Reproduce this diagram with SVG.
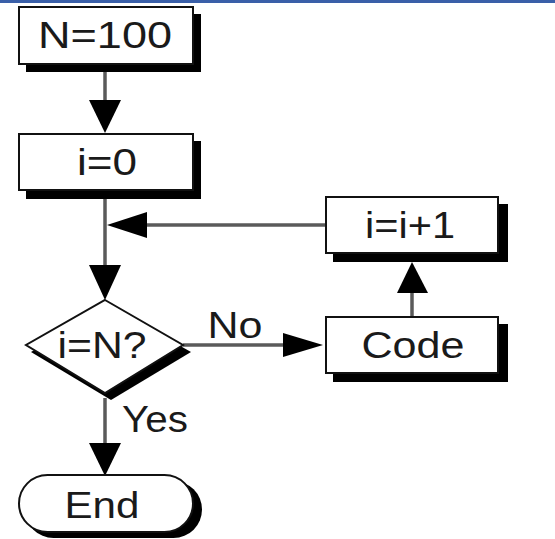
<svg xmlns="http://www.w3.org/2000/svg" width="555" height="539" viewBox="0 0 555 539">
<style>
.box{fill:#fff;stroke:#111;stroke-width:2}
.sh{fill:#000}
.t{font-family:"Liberation Sans",Arial,sans-serif;font-size:37px;fill:#1a1a1a;text-anchor:middle}
.ln{stroke:#5a5a5a;stroke-width:3.5;fill:none}
.ah{fill:#000}
</style>
<rect x="0" y="0" width="555" height="3" fill="#3a5fa8"/>
<g id="connectors">
<line class="ln" x1="105" y1="72" x2="105" y2="102"/>
<polygon class="ah" points="89,100 121,100 105,133"/>
<line class="ln" x1="105" y1="198" x2="105" y2="266"/>
<polygon class="ah" points="89,265 121,265 105,300"/>
<line class="ln" x1="145" y1="225" x2="325" y2="225"/>
<polygon class="ah" points="147,212 147,238 107,225"/>
<line class="ln" x1="183" y1="345" x2="285" y2="345"/>
<polygon class="ah" points="283,333 283,357 323,345"/>
<line class="ln" x1="412" y1="317" x2="412" y2="291"/>
<polygon class="ah" points="397,293 428,293 412,262"/>
<line class="ln" x1="105" y1="398" x2="105" y2="445"/>
<polygon class="ah" points="89,443 121,443 105,476"/>
<text class="t" x="235" y="338" textLength="55" lengthAdjust="spacingAndGlyphs">No</text>
<text class="t" x="155" y="432" textLength="66" lengthAdjust="spacingAndGlyphs">Yes</text>
</g>
<g id="n100">
<rect class="sh" x="26" y="14" width="175" height="58"/>
<rect class="box" x="19" y="7" width="174" height="57"/>
<text class="t" x="105" y="48" textLength="134" lengthAdjust="spacingAndGlyphs">N=100</text>
</g>
<g id="i0">
<rect class="sh" x="26" y="141" width="175" height="58"/>
<rect class="box" x="19" y="134" width="174" height="56"/>
<text class="t" x="107" y="175" textLength="60" lengthAdjust="spacingAndGlyphs">i=0</text>
</g>
<g id="inc">
<rect class="sh" x="333" y="204" width="175" height="58"/>
<rect class="box" x="326" y="197" width="172" height="56"/>
<text class="t" x="410" y="238" textLength="90" lengthAdjust="spacingAndGlyphs">i=i+1</text>
</g>
<g id="code">
<rect class="sh" x="333" y="324" width="175" height="58"/>
<rect class="box" x="326" y="317" width="172" height="56"/>
<text class="t" x="413" y="358" textLength="103" lengthAdjust="spacingAndGlyphs">Code</text>
</g>
<g id="decision">
<polygon class="sh" points="111,307 191,352 111,400 31,352"/>
<polygon class="box" points="105,300 183,345 105,393 26,345"/>
<text class="t" x="102" y="358" textLength="89" lengthAdjust="spacingAndGlyphs">i=N?</text>
</g>
<g id="end">
<rect class="sh" x="25" y="481" width="177" height="57" rx="28.5"/>
<rect class="box" x="19" y="475" width="174" height="57" rx="28.5"/>
<text class="t" x="102" y="518" textLength="75" lengthAdjust="spacingAndGlyphs">End</text>
</g>
</svg>
